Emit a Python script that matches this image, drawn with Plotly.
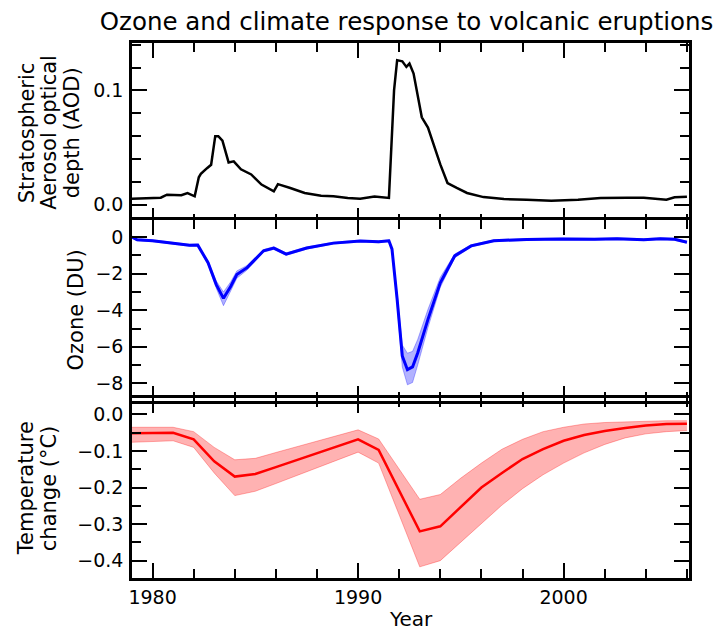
import plotly.graph_objects as go
from plotly.subplots import make_subplots

# ---------------- data ----------------
aod_years = [1979.0, 1979.5, 1980.0, 1980.4, 1980.7, 1981.0, 1981.4, 1981.7, 1982.05, 1982.25,
             1982.35, 1982.65, 1982.85, 1983.05, 1983.2, 1983.4, 1983.7, 1983.95, 1984.3, 1984.8,
             1985.3, 1985.9, 1986.1, 1986.7, 1987.4, 1988.2, 1988.8, 1989.5, 1990.1, 1990.8,
             1991.4, 1991.5, 1991.75, 1991.9, 1992.15, 1992.35, 1992.5, 1992.7, 1993.1, 1993.4,
             1994.0, 1994.35, 1994.8, 1995.3, 1996.1, 1997.1, 1998.2, 1999.4, 2000.7, 2001.8,
             2003.1, 2003.9, 2005.0, 2005.4, 2006.0]
aod_values = [0.0053, 0.0055, 0.0058, 0.0062, 0.0088, 0.0085, 0.0083, 0.0102, 0.0074, 0.024,
              0.027, 0.032, 0.035, 0.060, 0.060, 0.056, 0.037, 0.038, 0.031, 0.0265,
              0.0177, 0.0117, 0.018, 0.0147, 0.0103, 0.0079, 0.0074, 0.006, 0.0053, 0.0073,
              0.006, 0.006, 0.1, 0.1265, 0.1255, 0.1206, 0.1235, 0.1147, 0.0765, 0.0676,
              0.0353, 0.019, 0.0147, 0.0103, 0.0067, 0.005, 0.0044, 0.0035, 0.0044, 0.0058,
              0.0062, 0.0062, 0.0044, 0.0065, 0.007]

ozone_years = [1979.0, 1979.25, 1980.0, 1981.0, 1981.8, 1982.2, 1982.7, 1983.1, 1983.45, 1983.8,
               1984.1, 1984.6, 1985.4, 1985.9, 1986.5, 1987.5, 1988.8, 1990.1, 1991.0, 1991.5,
               1991.65, 1991.9, 1992.15, 1992.4, 1992.65, 1992.9, 1993.4, 1994.0, 1994.7, 1995.5,
               1996.6, 1998.2, 1999.9, 2001.5, 2002.6, 2003.9, 2004.7, 2005.4, 2006.0]
ozone_mean = [0.0, -0.15, -0.2, -0.35, -0.45, -0.44, -1.4, -2.6, -3.35, -2.7,
              -2.05, -1.67, -0.75, -0.6, -0.93, -0.6, -0.33, -0.22, -0.26, -0.2,
              -0.66, -3.4, -6.5, -7.25, -7.1, -6.34, -4.5, -2.5, -1.03, -0.48,
              -0.2, -0.13, -0.1, -0.12, -0.09, -0.14, -0.09, -0.12, -0.28]
ozone_upper = [0.05, -0.1, -0.15, -0.3, -0.4, -0.39, -1.3, -2.4, -3.0, -2.45,
               -1.85, -1.55, -0.68, -0.53, -0.86, -0.54, -0.28, -0.17, -0.21, -0.15,
               -0.6, -3.1, -5.9, -6.35, -6.25, -5.6, -3.95, -2.2, -0.93, -0.42,
               -0.15, -0.08, -0.05, -0.07, -0.04, -0.09, -0.04, -0.07, -0.23]
ozone_lower = [-0.05, -0.2, -0.25, -0.4, -0.5, -0.49, -1.5, -2.8, -3.75, -2.95,
               -2.25, -1.8, -0.82, -0.67, -1.0, -0.66, -0.38, -0.27, -0.31, -0.25,
               -0.72, -3.7, -7.1, -8.08, -7.95, -7.0, -4.95, -2.75, -1.13, -0.54,
               -0.25, -0.18, -0.15, -0.17, -0.14, -0.19, -0.14, -0.17, -0.33]

temp_years = [1979, 1980, 1981, 1982, 1983, 1984, 1985, 1986, 1987, 1988, 1989, 1990, 1991,
              1992, 1993, 1994, 1995, 1996, 1997, 1998, 1999, 2000, 2001, 2002, 2003, 2004,
              2005, 2006]
temp_mean = [-0.051, -0.05, -0.05, -0.068, -0.128, -0.17, -0.163, -0.144, -0.125, -0.106,
             -0.087, -0.068, -0.097, -0.21, -0.32, -0.306, -0.252, -0.2, -0.16, -0.122,
             -0.095, -0.072, -0.056, -0.045, -0.037, -0.03, -0.026, -0.025]
temp_upper = [-0.035, -0.035, -0.035, -0.047, -0.09, -0.124, -0.12, -0.104, -0.088, -0.073,
              -0.057, -0.042, -0.067, -0.15, -0.232, -0.219, -0.174, -0.133, -0.095, -0.068,
              -0.047, -0.035, -0.026, -0.022, -0.02, -0.018, -0.017, -0.017]
temp_lower = [-0.076, -0.075, -0.072, -0.09, -0.16, -0.222, -0.21, -0.189, -0.167, -0.146,
              -0.124, -0.103, -0.133, -0.275, -0.417, -0.40, -0.349, -0.298, -0.248, -0.203,
              -0.165, -0.133, -0.105, -0.082, -0.064, -0.053, -0.047, -0.044]

title_text = "Ozone and climate response to volcanic eruptions"
ylabel_lines = [["Stratospheric", "Aerosol optical", "depth (AOD)"],
                ["Ozone (DU)"],
                ["Temperature", "change (°C)"]]
xlabel = "Year"

# ---------------- figure ----------------
fig = make_subplots(rows=3, cols=1, shared_xaxes=True, vertical_spacing=0)

fig.add_trace(go.Scatter(x=aod_years, y=aod_values, mode="lines",
                         line=dict(color="black", width=2.5)), row=1, col=1)

fig.add_trace(go.Scatter(x=ozone_years, y=ozone_upper, mode="lines",
                         line=dict(color="rgba(0,0,255,0.3)", width=1)), row=2, col=1)
fig.add_trace(go.Scatter(x=ozone_years, y=ozone_lower, mode="lines", fill="tonexty",
                         fillcolor="rgba(0,0,255,0.3)",
                         line=dict(color="rgba(0,0,255,0.3)", width=1)), row=2, col=1)
fig.add_trace(go.Scatter(x=ozone_years, y=ozone_mean, mode="lines",
                         line=dict(color="#0000ff", width=3)), row=2, col=1)

fig.add_trace(go.Scatter(x=temp_years, y=temp_upper, mode="lines",
                         line=dict(color="rgba(255,0,0,0.3)", width=1)), row=3, col=1)
fig.add_trace(go.Scatter(x=temp_years, y=temp_lower, mode="lines", fill="tonexty",
                         fillcolor="rgba(255,0,0,0.3)",
                         line=dict(color="rgba(255,0,0,0.3)", width=1)), row=3, col=1)
fig.add_trace(go.Scatter(x=temp_years, y=temp_mean, mode="lines",
                         line=dict(color="#ff0000", width=2.5)), row=3, col=1)

font = "DejaVu Sans"
common_axis = dict(showline=True, linecolor="black", linewidth=2.5, mirror="allticks",
                   ticks="inside", ticklen=15, tickwidth=2, tickcolor="black",
                   showgrid=False, zeroline=False,
                   tickfont=dict(family=font, size=19, color="black"))

for r in (1, 2, 3):
    fig.update_xaxes(range=[1979, 2006.1], tick0=1980, dtick=10,
                     minor=dict(ticks="inside", dtick=2, tick0=1980, ticklen=9,
                                tickwidth=2, tickcolor="black", showgrid=False),
                     **common_axis, row=r, col=1)

fig.update_xaxes(ticklabelstandoff=0, row=3, col=1)

# panel domains overlap by one spine width so the shared borders coincide
ov = 2.5 / 535 / 2
domains = [[2 / 3 - ov, 1], [1 / 3 - ov, 2 / 3 + ov], [0, 1 / 3 + ov]]

yspecs = [
    dict(range=[-0.0156, 0.1415], tick0=0, dtick=0.1, tickformat=".1f", mdt=0.02),
    dict(range=[-8.96, 0.93], tick0=0, dtick=2, tickformat="d", mdt=1),
    dict(range=[-0.4475, 0.044], tick0=0, dtick=0.1, tickformat=".1f", mdt=0.05),
]
for i, spec in enumerate(yspecs):
    mdt = spec.pop("mdt")
    fig.update_yaxes(**spec, domain=domains[i],
                     minor=dict(ticks="inside", dtick=mdt, tick0=0, ticklen=9,
                                tickwidth=2, tickcolor="black", showgrid=False),
                     ticklabelstandoff=2,
                     **common_axis, row=i + 1, col=1)

# y-axis titles: one rotated annotation per line (pixel offsets from the left axis)
line_x_px = [[26.5, 49, 71.5], [75], [26, 49]]
plot_left = 132
yrefs = ["y domain", "y2 domain", "y3 domain"]
for lines, xs, yref in zip(ylabel_lines, line_x_px, yrefs):
    for txt, px in zip(lines, xs):
        fig.add_annotation(text=txt, textangle=-90, showarrow=False,
                           xref="paper", x=0, xanchor="center", xshift=px - plot_left,
                           yref=yref, y=0.5, yanchor="middle",
                           font=dict(family=font, size=21, color="black"))

fig.add_annotation(text=xlabel, showarrow=False, xref="paper", x=0.5, xanchor="center",
                   yref="paper", y=0, yanchor="middle", yshift=-41,
                   font=dict(family=font, size=20, color="black"))

fig.update_layout(
    width=726, height=630,
    margin=dict(l=132, r=37, t=43, b=52, autoexpand=False),
    paper_bgcolor="white", plot_bgcolor="white",
    showlegend=False,
    font=dict(family=font, color="black"),
    title=dict(text=title_text, x=0.56, xanchor="center", xref="container",
               y=1 - 21 / 630, yanchor="middle", yref="container",
               font=dict(family=font, size=24.5, color="black")),
)

fig.write_html("out.html", config={"displayModeBar": False},
               post_script="document.body.style.margin='0';document.body.style.padding='0';")
